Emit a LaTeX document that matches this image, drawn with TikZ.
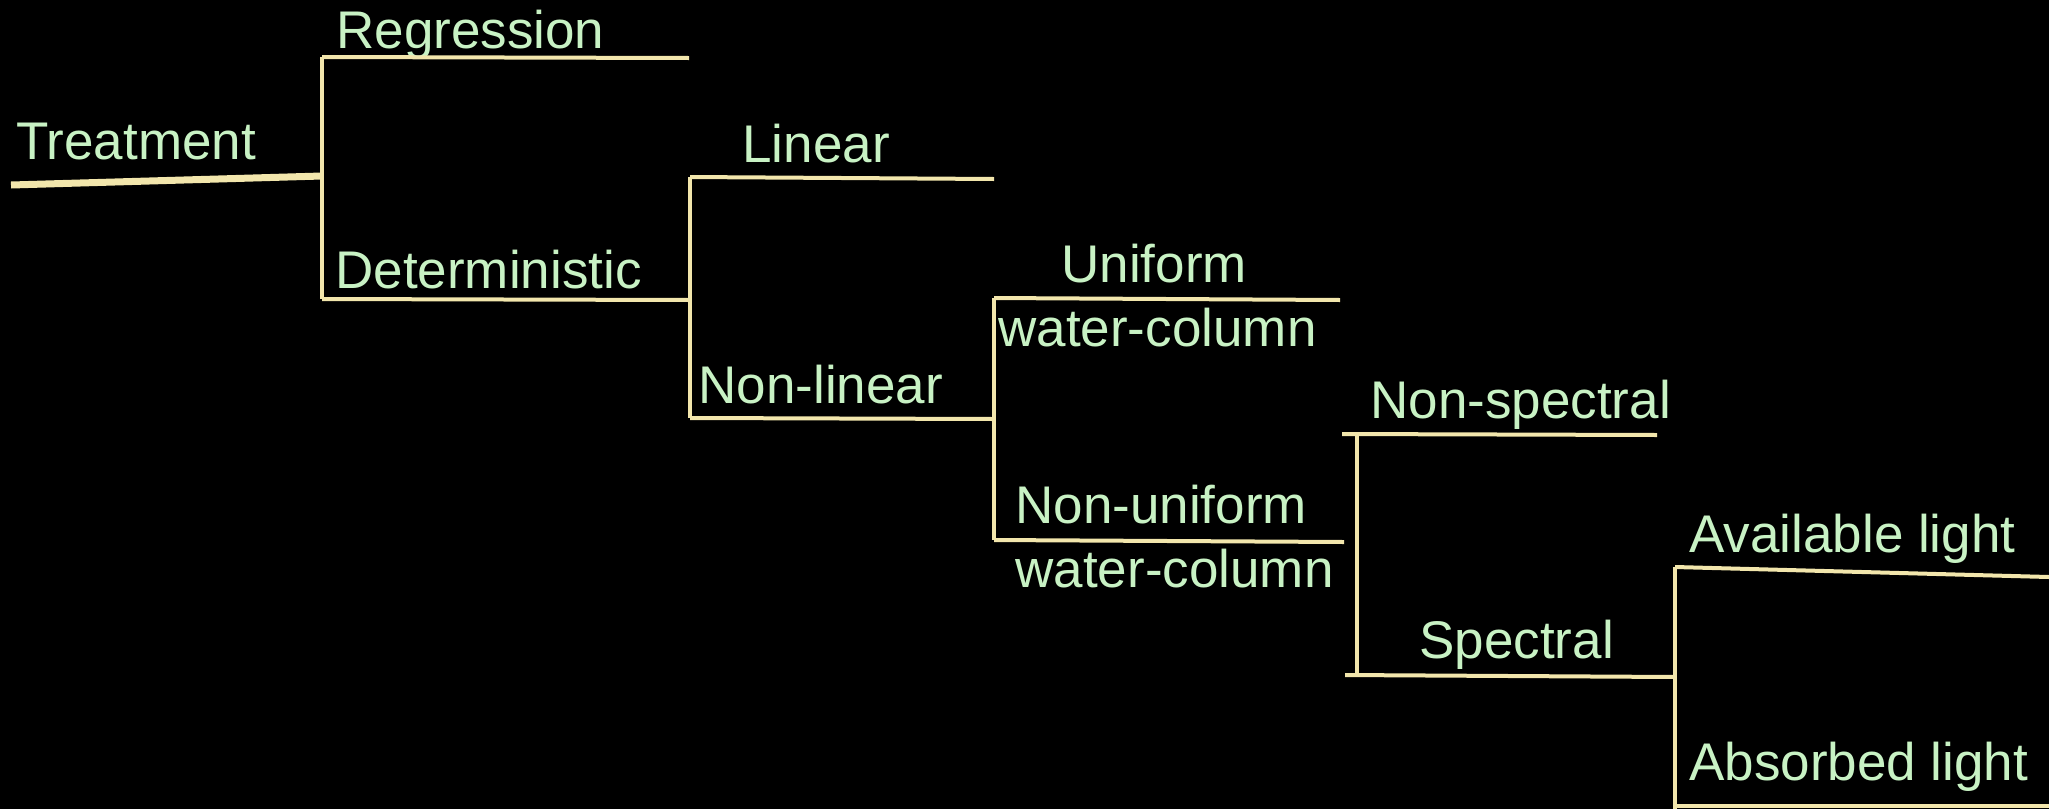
\documentclass[tikz,border=0pt]{standalone}
\usepackage{fontspec}
\setmainfont{Liberation Sans}
\definecolor{txtcol}{RGB}{200,242,196}
\definecolor{linecol}{RGB}{242,230,172}
\begin{document}
\begin{tikzpicture}[x=0.5pt,y=-0.5pt,
  lbl/.style={anchor=base west,inner sep=0pt,text=txtcol,font=\fontsize{26.5}{30}\selectfont},
  branch/.style={draw=linecol,line width=2pt},
  trunk/.style={draw=linecol,line width=3.5pt}]
\fill[black] (0,0) rectangle (2049,809);
\useasboundingbox (0,0) rectangle (2049,809);
% labels
\node[lbl] (treat) at (16,159) {Treatment};
\node[lbl] (reg) at (336,48) {Regression};
\node[lbl] (det) at (335,288) {Deterministic};
\node[lbl] (lin) at (742,162) {Linear};
\node[lbl] (nlin) at (698,403) {Non-linear};
\node[lbl] (unif) at (1061,282) {Uniform};
\node[lbl] (wc1) at (998,346) {water-column};
\node[lbl] (nunif) at (1015,523) {Non-uniform};
\node[lbl] (wc2) at (1015,587) {water-column};
\node[lbl] (nspec) at (1370,418) {Non-spectral};
\node[lbl] (spec) at (1419,658) {Spectral};
\node[lbl] (avail) at (1689,552) {Available light};
\node[lbl] (absb) at (1689,780) {Absorbed light};
% junction points
\coordinate (t0) at (11,185);
\coordinate (j1) at (322,176);
\coordinate (j1t) at (322,57);
\coordinate (j1b) at (322,299);
\coordinate (regE) at (689,58);
\coordinate (j2) at (690,300);
\coordinate (j2t) at (690,177);
\coordinate (j2b) at (690,418);
\coordinate (linE) at (994,179);
\coordinate (j3) at (994,419);
\coordinate (j3t) at (994,298);
\coordinate (j3b) at (994,540);
\coordinate (unifE) at (1340,300);
\coordinate (nunifE) at (1344,542);
\coordinate (nspS) at (1342,434);
\coordinate (nspE) at (1657,435);
\coordinate (j4t) at (1357,434);
\coordinate (j4b) at (1357,675);
\coordinate (specS) at (1345,675);
\coordinate (j5) at (1675,677);
\coordinate (j5t) at (1675,567);
\coordinate (j5b) at (1675,809);
\coordinate (availE) at (2049,577);
\coordinate (absS) at (1675,806);
\coordinate (absE) at (2049,806);
% connectors
\draw[trunk] (t0) -- (j1);
\draw[branch] (j1t) -- (j1b);
\draw[branch] (j1t) -- (regE);
\draw[branch] (j1b) -- (j2);
\draw[branch] (j2t) -- (j2b);
\draw[branch] (j2t) -- (linE);
\draw[branch] (j2b) -- (j3);
\draw[branch] (j3t) -- (j3b);
\draw[branch] (j3t) -- (unifE);
\draw[branch] (j3b) -- (nunifE);
\draw[branch] (nspS) -- (nspE);
\draw[branch] (j4t) -- (j4b);
\draw[branch] (specS) -- (j5);
\draw[branch] (j5t) -- (j5b);
\draw[branch] (j5t) -- (availE);
\draw[branch] (absS) -- (absE);
\end{tikzpicture}
\end{document}
